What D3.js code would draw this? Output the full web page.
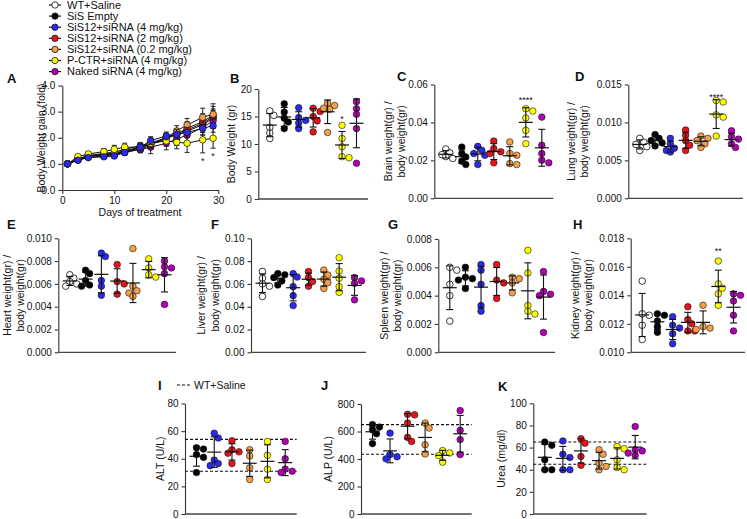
<!DOCTYPE html>
<html>
<head>
<meta charset="utf-8">
<script src="https://cdn.jsdelivr.net/npm/d3@7"></script>
<style>
body { margin: 0; background: #fff; }
svg { display: block; }
text { font-family: "Liberation Sans", Arial, sans-serif; fill: #111; }
</style>
</head>
<body>
<svg id="fig" width="747" height="519"></svg>
<script>
// ---- groups ----
var groups = ["WT+Saline", "SiS Empty", "SiS12+siRNA (4 mg/kg)", "SiS12+siRNA (2 mg/kg)",
              "SiS12+siRNA (0.2 mg/kg)", "P-CTR+siRNA (4 mg/kg)", "Naked siRNA (4 mg/kg)"];
var groupColors = ["#ffffff", "#000000", "#2b2bf0", "#e8141c", "#f4a04a", "#ffff00", "#b400b4"];

// ---- A: body weight gain (fold) ----
var days = [1, 3, 5, 8, 10, 12, 15, 17, 20, 22, 24, 27, 29];
var gainMean = [
  [1.0, 1.18, 1.28, 1.35, 1.38, 1.48, 1.60, 1.75, 2.00, 2.15, 2.30, 2.55, 2.80],
  [1.0, 1.15, 1.28, 1.35, 1.40, 1.45, 1.55, 1.72, 2.02, 2.10, 2.25, 2.50, 2.75],
  [1.0, 1.14, 1.24, 1.27, 1.30, 1.43, 1.64, 1.89, 2.07, 2.13, 2.20, 2.36, 2.46],
  [1.0, 1.18, 1.30, 1.38, 1.42, 1.50, 1.65, 1.75, 1.95, 2.15, 2.36, 2.62, 2.85],
  [1.0, 1.20, 1.32, 1.40, 1.45, 1.55, 1.70, 1.80, 2.00, 2.26, 2.49, 2.78, 2.90],
  [1.0, 1.28, 1.38, 1.47, 1.56, 1.64, 1.64, 1.79, 1.88, 1.83, 1.79, 1.92, 1.98],
  [1.0, 1.15, 1.25, 1.30, 1.35, 1.45, 1.55, 1.64, 1.79, 1.95, 2.10, 2.40, 2.65]
];
var gainSd = [
  [0, .05, .06, .08, .10, .10, .12, .15, .15, .20, .25, .30, .30],
  [0, .05, .06, .08, .10, .10, .12, .15, .15, .20, .20, .30, .30],
  [0, .04, .05, .06, .08, .10, .12, .15, .15, .18, .20, .25, .25],
  [0, .05, .06, .08, .10, .10, .12, .15, .15, .20, .25, .30, .35],
  [0, .05, .06, .08, .10, .10, .12, .15, .15, .20, .25, .35, .40],
  [0, .06, .08, .12, .15, .15, .15, .20, .20, .25, .35, .50, .38],
  [0, .05, .06, .08, .10, .10, .12, .25, .25, .25, .25, .30, .30]
];
var gainStarDays = [27, 29];

// ---- B-H: organ weights, one list per group ----
var bodyWeight = [
  [16.0, 15.2, 13.0, 12.0, 11.0],
  [17.3, 15.8, 14.7, 14.0, 12.8],
  [16.6, 14.8, 14.3, 13.8, 12.8],
  [16.5, 15.9, 15.0, 14.2, 12.2],
  [17.4, 17.0, 16.5, 16.3, 12.1],
  [13.4, 11.0, 9.5, 7.7, 7.5],
  [17.7, 16.4, 15.4, 12.8, 6.5]
];
var brainRatio = [
  [0.026, 0.024, 0.023, 0.021, 0.022],
  [0.027, 0.0236, 0.0218, 0.0196, 0.0178],
  [0.0274, 0.0253, 0.0236, 0.0227, 0.0178],
  [0.0302, 0.0262, 0.0245, 0.0236, 0.0187],
  [0.0297, 0.0236, 0.0227, 0.0183, 0.0178],
  [0.0472, 0.046, 0.0424, 0.0358, 0.0288],
  [0.0428, 0.028, 0.0236, 0.0201, 0.0187]
];
var lungRatio = [
  [0.0079, 0.0074, 0.0071, 0.0068, 0.0063],
  [0.0084, 0.0079, 0.0076, 0.0073, 0.0069],
  [0.0079, 0.0072, 0.0066, 0.0063, 0.0061],
  [0.0090, 0.0083, 0.0076, 0.0070, 0.0063],
  [0.0082, 0.0079, 0.0076, 0.0072, 0.0067],
  [0.0129, 0.0127, 0.0110, 0.0107, 0.0082],
  [0.0089, 0.0081, 0.0078, 0.0072, 0.0067]
];
var heartRatio = [
  [0.0068, 0.0065, 0.0062, 0.0060, 0.0058],
  [0.0072, 0.0069, 0.0063, 0.0059, 0.0058],
  [0.0087, 0.0084, 0.0063, 0.0058, 0.0050],
  [0.0077, 0.0062, 0.0060, 0.0051],
  [0.0091, 0.0058, 0.0054, 0.0052, 0.0049],
  [0.0082, 0.0074, 0.0068, 0.0066],
  [0.0080, 0.0075, 0.0074, 0.0069, 0.0042]
];
var liverRatio = [
  [0.071, 0.065, 0.060, 0.058, 0.049],
  [0.069, 0.068, 0.0655, 0.0626, 0.059],
  [0.069, 0.066, 0.0576, 0.0497, 0.041],
  [0.0708, 0.0655, 0.062, 0.058],
  [0.0722, 0.0678, 0.064, 0.061, 0.056],
  [0.083, 0.0713, 0.065, 0.0576, 0.0526],
  [0.0655, 0.0626, 0.0605, 0.046]
];
var spleenRatio = [
  [0.0060, 0.0058, 0.0048, 0.0040, 0.0022],
  [0.0060, 0.0053, 0.0052, 0.0051, 0.0045],
  [0.0062, 0.0058, 0.0048, 0.0033, 0.0029],
  [0.0062, 0.0051, 0.0049, 0.0038],
  [0.0053, 0.0052, 0.0049, 0.0042],
  [0.0072, 0.0056, 0.0033, 0.0029, 0.0027],
  [0.0057, 0.0043, 0.0041, 0.0040, 0.0014]
];
var kidneyRatio = [
  [0.0150, 0.0127, 0.0126, 0.0119, 0.0109],
  [0.0127, 0.0126, 0.0122, 0.0118, 0.0114],
  [0.0125, 0.0119, 0.0117, 0.0113, 0.0106],
  [0.0132, 0.0123, 0.0120, 0.0115, 0.0115],
  [0.0133, 0.0118, 0.0117, 0.0116],
  [0.0164, 0.0148, 0.0145, 0.0141, 0.0133],
  [0.0141, 0.0140, 0.0136, 0.0126, 0.0115]
];

// ---- I-K: serum markers (no WT column; WT range shown as dashed lines) ----
var altValues = [
  [48, 47, 43, 41, 30],
  [58.5, 55, 39, 36.5, 35],
  [53, 46.5, 45, 44, 36.5],
  [46.5, 42, 33.5, 25],
  [52.5, 42.5, 32.5, 25],
  [52.5, 40, 32.5, 31, 30]
];
var alpValues = [
  [650, 632, 612, 584, 512],
  [588, 432, 416, 401],
  [725, 721, 661, 557, 528],
  [661, 625, 504, 437],
  [461, 444, 425, 377],
  [752, 608, 541, 432]
];
var ureaValues = [
  [65, 62, 49, 40, 40],
  [66, 54, 51, 40, 40],
  [68, 64, 52, 44],
  [58, 54, 46, 43, 40],
  [61, 59, 49, 42, 40],
  [79, 58, 57, 55, 53]
];
var altRef = [31, 54];
var alpRef = [435, 650];
var ureaRef = [45, 65];

var svg = d3.select("#fig");
var FONT = "Liberation Sans, Arial, sans-serif";

function styleAxis(sel) {
  sel.attr("font-family", FONT).attr("font-size", 10);
  sel.selectAll("path, line").attr("stroke", "#333").attr("stroke-width", 1.1);
  sel.selectAll("text").attr("fill", "#111");
}

function letter(t, x, y) {
  svg.append("text").attr("x", x).attr("y", y)
    .attr("font-size", 13).attr("font-weight", "bold").text(t);
}

function yTitle(lines, xs, yMid) {
  lines.forEach(function(l, i) {
    svg.append("text")
      .attr("transform", "translate(" + xs[i] + "," + yMid + ") rotate(-90)")
      .attr("text-anchor", "middle").attr("dy", "0.35em")
      .attr("font-size", 10.5).text(l);
  });
}

// ---- legend ----
var legend = svg.append("g");
groups.forEach(function(name, i) {
  var yy = 5 + i * 11.1;
  legend.append("line").attr("x1", 49).attr("x2", 61).attr("y1", yy).attr("y2", yy)
    .attr("stroke", "#111").attr("stroke-width", 1.2);
  legend.append("circle").attr("cx", 55).attr("cy", yy).attr("r", 3.2)
    .attr("fill", groupColors[i]).attr("stroke", "#111").attr("stroke-width", 0.8);
  legend.append("text").attr("x", 67).attr("y", yy).attr("dy", "0.35em")
    .attr("font-size", 11).text(name);
});

// ---- panel A ----
(function() {
  var xA = d3.scaleLinear().domain([0, 30]).range([62.3, 218.3]);
  var yA = d3.scaleLinear().domain([0, 4]).range([190, 85.5]);
  svg.append("g").attr("transform", "translate(0,190)")
    .call(d3.axisBottom(xA).tickValues([0, 10, 20, 30]).tickSize(4).tickSizeOuter(0))
    .call(styleAxis);
  svg.append("g").attr("transform", "translate(62.3,0)")
    .call(d3.axisLeft(yA).tickValues([0, 1, 2, 3, 4]).tickSize(4).tickSizeOuter(0))
    .call(styleAxis);

  var order = [0, 1, 6, 3, 4, 5, 2];
  var line = d3.line().x(function(d) { return xA(d[0]); }).y(function(d) { return yA(d[1]); });
  order.forEach(function(gi) {
    var pts = days.map(function(d, k) { return [d, gainMean[gi][k], gainSd[gi][k]]; });
    var g = svg.append("g");
    g.append("path").datum(pts).attr("d", line)
      .attr("fill", "none").attr("stroke", "#111").attr("stroke-width", 1);
    pts.forEach(function(p) {
      if (p[2] <= 0) return;
      var x = xA(p[0]), y0 = yA(p[1] - p[2]), y1 = yA(p[1] + p[2]);
      g.append("line").attr("x1", x).attr("x2", x).attr("y1", y0).attr("y2", y1)
        .attr("stroke", "#222").attr("stroke-width", 1);
      [y0, y1].forEach(function(yy) {
        g.append("line").attr("x1", x - 2.5).attr("x2", x + 2.5).attr("y1", yy).attr("y2", yy)
          .attr("stroke", "#222").attr("stroke-width", 1);
      });
    });
    g.selectAll("circle").data(pts).enter().append("circle")
      .attr("cx", function(d) { return xA(d[0]); })
      .attr("cy", function(d) { return yA(d[1]); })
      .attr("r", 3.3)
      .attr("fill", groupColors[gi]).attr("stroke", "#111").attr("stroke-width", 0.7);
  });
  gainStarDays.forEach(function(d) {
    var k = days.indexOf(d);
    svg.append("text").attr("x", xA(d)).attr("y", yA(gainMean[5][k] - gainSd[5][k]) + 11)
      .attr("text-anchor", "middle").attr("font-size", 9).text("*");
  });
  svg.append("text").attr("x", 140).attr("y", 216).attr("text-anchor", "middle")
    .attr("font-size", 10.5).text("Days of treatment");
  yTitle(["Body Weight gain (fold)"], [41.7], 138);
  letter("A", 7, 83);
})();

// ---- dot-plot panels ----
function spread(vals, y) {
  var idx = d3.range(vals.length).sort(function(a, b) { return vals[b] - vals[a]; });
  var placed = [], off = [];
  var cands = [0, 4, -4, 7, -7, 2, -2];
  idx.forEach(function(i) {
    var py = y(vals[i]);
    var pick = cands[0];
    for (var k = 0; k < cands.length; k++) {
      var ok = placed.every(function(q) { return Math.hypot(q.x - cands[k], q.y - py) >= 5.2; });
      if (ok) { pick = cands[k]; break; }
    }
    off[i] = pick;
    placed.push({ x: pick, y: py });
  });
  return off;
}

function dotPanel(p) {
  var x0 = p.box[0], x1 = p.box[1], top = p.box[2], bottom = p.box[3];
  var y = d3.scaleLinear().domain(p.domain).range([bottom, top]);
  var x = d3.scalePoint().domain(p.groupIdx).range([x0 + 11.5, x1 - 11.5]);

  svg.append("g").attr("transform", "translate(" + x0 + ",0)")
    .call(d3.axisLeft(y).tickValues(p.ticks).tickFormat(d3.format(p.fmt)).tickSize(3.5).tickSizeOuter(0))
    .call(styleAxis);
  svg.append("line").attr("x1", x0).attr("x2", x1).attr("y1", bottom).attr("y2", bottom)
    .attr("stroke", "#444").attr("stroke-width", 1.3);

  if (p.ref) {
    p.ref.forEach(function(v) {
      svg.append("line").attr("x1", x0).attr("x2", x1).attr("y1", y(v)).attr("y2", y(v))
        .attr("stroke", "#111").attr("stroke-width", 1.1).attr("stroke-dasharray", "3,2");
    });
  }

  p.data.forEach(function(vals, j) {
    var gi = p.groupIdx[j];
    var cx = x(gi);
    var off = spread(vals, y);
    var g = svg.append("g");
    g.selectAll("circle").data(vals).enter().append("circle")
      .attr("cx", function(d, i) { return cx + off[i]; })
      .attr("cy", function(d) { return y(d); })
      .attr("r", 3.3)
      .attr("fill", groupColors[gi])
      .attr("stroke", gi === 0 ? "#222" : "#111")
      .attr("stroke-width", gi === 0 ? 0.9 : 0.6);

    var m = d3.mean(vals), s = d3.deviation(vals);
    g.append("line").attr("x1", cx - 7).attr("x2", cx + 7).attr("y1", y(m)).attr("y2", y(m))
      .attr("stroke", "#111").attr("stroke-width", 1.2);
    g.append("line").attr("x1", cx).attr("x2", cx).attr("y1", y(m - s)).attr("y2", y(m + s))
      .attr("stroke", "#111").attr("stroke-width", 1.1);
    [m - s, m + s].forEach(function(v) {
      g.append("line").attr("x1", cx - 3.5).attr("x2", cx + 3.5).attr("y1", y(v)).attr("y2", y(v))
        .attr("stroke", "#111").attr("stroke-width", 1.1);
    });

    if (p.star && gi === 5) {
      var topV = Math.max(d3.max(vals), m + s);
      svg.append("text").attr("x", cx).attr("y", y(topV) - 3 + p.starShift)
        .attr("text-anchor", "middle").attr("font-size", 9).text(p.star);
    }
  });

  yTitle(p.title, p.titleX, (top + bottom) / 2);
  letter(p.letter[0], p.letter[1], p.letter[2]);
}

var all7 = [0, 1, 2, 3, 4, 5, 6];
var six = [1, 2, 3, 4, 5, 6];

var panels = [
  { letter: ["B", 230, 83], data: bodyWeight, groupIdx: all7, box: [258.3, 368, 89, 199],
    domain: [0, 20], ticks: [0, 5, 10, 15, 20], fmt: "d",
    title: ["Body Weight (gr)"], titleX: [231.7], star: "*", starShift: 0 },
  { letter: ["C", 397, 81], data: brainRatio, groupIdx: all7, box: [434.3, 553.3, 84.5, 198.3],
    domain: [0, 0.06], ticks: [0, 0.02, 0.04, 0.06], fmt: ".2f",
    title: ["Brain weight(gr) /", "body weight(gr)"], titleX: [388, 401], star: "****", starShift: -2 },
  { letter: ["D", 575, 81], data: lungRatio, groupIdx: all7, box: [628.3, 743, 84.5, 198.3],
    domain: [0, 0.015], ticks: [0, 0.005, 0.010, 0.015], fmt: ".3f",
    title: ["Lung weight(gr) /", "body weight(gr)"], titleX: [571, 584], star: "****", starShift: 3 },
  { letter: ["E", 7, 229], data: heartRatio, groupIdx: all7, box: [58.3, 176, 238.3, 352.3],
    domain: [0, 0.010], ticks: [0, 0.002, 0.004, 0.006, 0.008, 0.010], fmt: ".3f",
    title: ["Heart weight(gr) /", "body weight(gr)"], titleX: [7, 20] },
  { letter: ["F", 211, 229], data: liverRatio, groupIdx: all7, box: [251, 366, 238.3, 352.3],
    domain: [0, 0.10], ticks: [0, 0.02, 0.04, 0.06, 0.08, 0.10], fmt: ".2f",
    title: ["Liver weight(gr) /", "body weight(gr)"], titleX: [201, 215] },
  { letter: ["G", 388, 229], data: spleenRatio, groupIdx: all7, box: [438.3, 555, 239, 352.3],
    domain: [0, 0.008], ticks: [0, 0.002, 0.004, 0.006, 0.008], fmt: ".3f",
    title: ["Spleen weight(gr) /", "body weight(gr)"], titleX: [384.3, 397.7] },
  { letter: ["H", 573, 229], data: kidneyRatio, groupIdx: all7, box: [630.7, 745, 238.3, 352.3],
    domain: [0.010, 0.018], ticks: [0.010, 0.012, 0.014, 0.016, 0.018], fmt: ".3f",
    title: ["Kidney weight(gr) /", "body weight(gr)"], titleX: [575, 588], star: "**", starShift: -4 },
  { letter: ["I", 158, 390], data: altValues, groupIdx: six, box: [185, 296.7, 403.5, 514],
    domain: [0, 80], ticks: [0, 20, 40, 60, 80], fmt: "d", ref: altRef,
    title: ["ALT (U/L)"], titleX: [160] },
  { letter: ["J", 321, 390], data: alpValues, groupIdx: six, box: [361, 471.7, 404, 514],
    domain: [0, 800], ticks: [0, 200, 400, 600, 800], fmt: "d", ref: alpRef,
    title: ["ALP (U/L)"], titleX: [328] },
  { letter: ["K", 498, 391], data: ureaValues, groupIdx: six, box: [533.3, 646.7, 403.3, 514],
    domain: [0, 100], ticks: [0, 20, 40, 60, 80, 100], fmt: "d", ref: ureaRef,
    title: ["Urea (mg/dl)"], titleX: [501.7] }
];
panels.forEach(dotPanel);

// dashed-line key for I-K
svg.append("line").attr("x1", 177).attr("x2", 190).attr("y1", 385).attr("y2", 385)
  .attr("stroke", "#111").attr("stroke-width", 1.1).attr("stroke-dasharray", "3,2");
svg.append("text").attr("x", 194).attr("y", 385).attr("dy", "0.35em")
  .attr("font-size", 10.5).text("WT+Saline");
</script>
</body>
</html>
